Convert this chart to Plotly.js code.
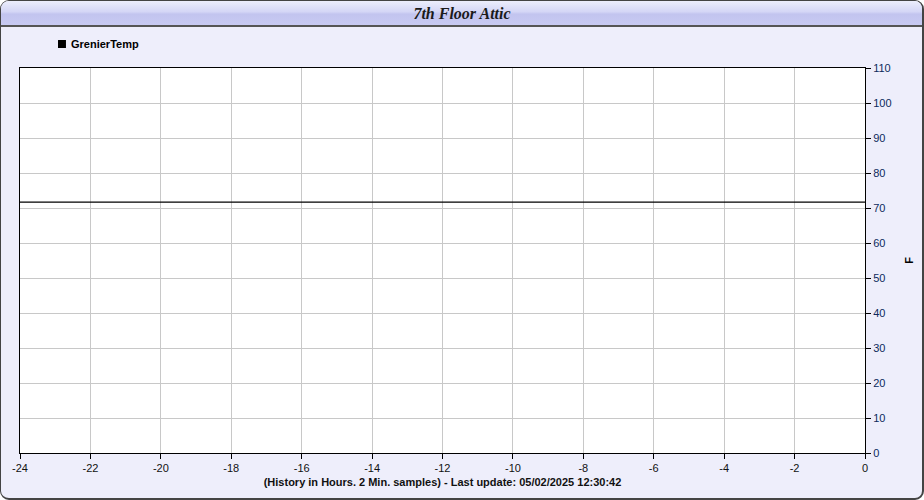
<!DOCTYPE html>
<html>
<head>
<meta charset="utf-8">
<script src="https://cdn.plot.ly/plotly-3.0.1.min.js"></script>
<style>
  html, body { margin: 0; padding: 0; background: #ffffff; }
  #frame {
    position: absolute; left: 0; top: 0; width: 921px; height: 497px;
    border: 1px solid #444; border-right-width: 2px; border-bottom-width: 2px;
    border-radius: 9px; background: #eeeefb; overflow: hidden;
  }
  #bar {
    position: absolute; left: 0; top: 0; width: 100%; height: 24px;
    background: linear-gradient(to bottom, #eceefc 0%, #d4d6f6 45%, #c2c4ef 55%, #c8caf2 100%);
    border-bottom: 2px solid #555;
  }
  #chart { position: absolute; left: 0; top: 0; width: 924px; height: 500px; }
</style>
</head>
<body>
<div id="frame"><div id="bar"></div></div>
<div id="chart"></div>
<script>
// Data (hours before last update, temperature in F)
const hours = [-24, -20, -16, -12, -8, -4, 0];
const grenierTemp = [71.7, 71.7, 71.7, 71.7, 71.7, 71.7, 71.7];
const seriesName = 'GrenierTemp';
const xTicks = [-24, -22, -20, -18, -16, -14, -12, -10, -8, -6, -4, -2, 0];
const yTicks = [0, 10, 20, 30, 40, 50, 60, 70, 80, 90, 100, 110];

const traces = [
  {
    x: hours, y: grenierTemp, type: 'scatter', mode: 'lines', name: seriesName,
    line: { color: '#000000', width: 1.3 }, showlegend: false, hoverinfo: 'x+y'
  }
];

const layout = {
  width: 924, height: 500,
  paper_bgcolor: 'rgba(0,0,0,0)', plot_bgcolor: '#ffffff',
  margin: { l: 20, r: 59, t: 68, b: 47 },
  font: { family: 'Liberation Sans, Arial, sans-serif', size: 11, color: '#000' },
  title: {
    text: '<b><i>7th Floor Attic</i></b>',
    font: { family: 'Liberation Serif, Times New Roman, serif', size: 16, color: '#1a1a1a' },
    x: 0.5, xanchor: 'center', xref: 'container',
    y: 0.974, yanchor: 'middle', yref: 'container'
  },
  showlegend: false,
  shapes: [
    { type: 'rect', xref: 'paper', yref: 'paper', x0: 0.045, x1: 0.0544, y0: 1.0519, y1: 1.0727,
      fillcolor: '#000000', line: { width: 0 } }
  ],
  annotations: [
    { text: '<b>' + seriesName + '</b>', xref: 'paper', yref: 'paper', x: 0.0582, y: 1.0623,
      xanchor: 'left', yanchor: 'middle', showarrow: false,
      font: { size: 11, color: '#000', family: 'Liberation Sans, Arial, sans-serif' } }
  ],
  xaxis: {
    range: [-24, 0], tickvals: xTicks, ticktext: xTicks.map(String),
    showgrid: true, gridcolor: '#c8c8c8', gridwidth: 1,
    showline: true, linecolor: '#000', linewidth: 1, mirror: true,
    ticks: 'outside', ticklen: 5, tickcolor: '#000',
    tickfont: { size: 11, color: '#111' }, zeroline: false,
    title: {
      text: '<b>(History in Hours. 2 Min. samples) - Last update: 05/02/2025 12:30:42</b>',
      font: { size: 11, color: '#111' }, standoff: 5
    }
  },
  yaxis: {
    range: [0, 110], tickvals: yTicks, ticktext: yTicks.map(String),
    side: 'right',
    showgrid: true, gridcolor: '#c8c8c8', gridwidth: 1,
    showline: true, linecolor: '#000', linewidth: 1, mirror: true,
    ticks: 'outside', ticklen: 5, tickcolor: '#000',
    tickfont: { size: 11, color: '#0d2a5c' }, zeroline: false,
    title: { text: '<b>F</b>', font: { size: 11, color: '#000' }, standoff: 14 }
  }
};

Plotly.newPlot('chart', traces, layout, { displayModeBar: false, staticPlot: true });
</script>
</body>
</html>
